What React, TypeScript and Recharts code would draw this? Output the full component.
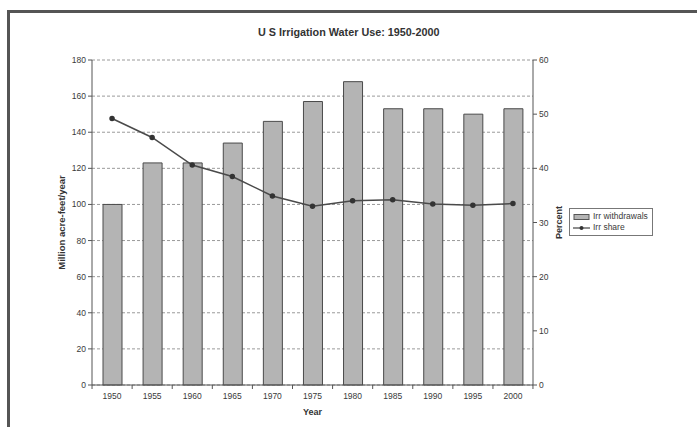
import {
  Bar,
  CartesianGrid,
  ComposedChart,
  Label,
  Line,
  XAxis,
  YAxis,
} from "recharts";

// US irrigation withdrawals (million acre-feet/year) and irrigation share (%)
const years = ["1950", "1955", "1960", "1965", "1970", "1975", "1980", "1985", "1990", "1995", "2000"];
const irrWithdrawals = [100, 123, 123, 134, 146, 157, 168, 153, 153, 150, 153];
const irrShare = [49.2, 45.7, 40.6, 38.5, 34.9, 33.0, 34.0, 34.2, 33.4, 33.2, 33.5];

const leftTicks = [0, 20, 40, 60, 80, 100, 120, 140, 160, 180];
const rightTicks = [0, 10, 20, 30, 40, 50, 60];

const chartData = years.map((y, i) => ({
  year: y,
  withdrawals: irrWithdrawals[i],
  share: irrShare[i],
}));

const FONT = "'Liberation Sans', Arial, sans-serif";
const TEXT = "#3a3a3a";

function YearTick(props: any) {
  const { x, y, payload, index } = props;
  const half = 20;
  return (
    <g>
      <line x1={x - half} y1={y - 8} x2={x - half} y2={y - 4} stroke="#555" />
      {index === years.length - 1 ? (
        <line x1={x + half} y1={y - 8} x2={x + half} y2={y - 4} stroke="#555" />
      ) : null}
      <text x={x} y={y + 6} textAnchor="middle" fontSize={8.5} fill={TEXT} fontFamily={FONT}>
        {payload.value}
      </text>
    </g>
  );
}

function LegendBox() {
  return (
    <div
      style={{
        border: "1px solid #777",
        background: "#fff",
        padding: "2px 3px",
        fontFamily: FONT,
        fontSize: 8.5,
        color: TEXT,
        lineHeight: "11px",
        width: 76,
      }}
    >
      <div style={{ display: "flex", alignItems: "center" }}>
        <svg width={18} height={8}>
          <rect x={1} y={1.5} width={15} height={5} fill="#b4b4b4" stroke="#555" />
        </svg>
        <span style={{ marginLeft: 2 }}>Irr withdrawals</span>
      </div>
      <div style={{ display: "flex", alignItems: "center" }}>
        <svg width={18} height={8}>
          <line x1={0} y1={4} x2={17} y2={4} stroke="#444" strokeWidth={1.2} />
          <circle cx={8.5} cy={4} r={2} fill="#333" />
        </svg>
        <span style={{ marginLeft: 2 }}>Irr share</span>
      </div>
    </div>
  );
}

export default function App() {
  return (
    <div style={{ position: "absolute", left: 0, top: 0, width: 697, height: 427, background: "#fff", overflow: "hidden" }}>
      <div
        style={{
          position: "absolute",
          left: 7,
          top: 10,
          width: 720,
          height: 440,
          borderLeft: "3px solid #555",
          borderTop: "3px solid #555",
        }}
      />
      <div
        style={{
          position: "absolute",
          left: 258,
          top: 26,
          whiteSpace: "nowrap",
          fontFamily: FONT,
          fontSize: 10.8,
          fontWeight: "bold",
          color: "#333",
        }}
      >
        U S Irrigation Water Use: 1950-2000
      </div>
      <div style={{ position: "absolute", left: 0, top: 0 }}>
        <ComposedChart
          width={697}
          height={427}
          data={chartData}
          margin={{ top: 60, right: 124, left: 52, bottom: 12 }}
          barCategoryGap="52%"
        >
          <CartesianGrid yAxisId="left" vertical={false} stroke="#9a9a9a" strokeDasharray="3 2" />
          <XAxis
            dataKey="year"
            height={30}
            stroke="#555"
            tickLine={false}
            tick={<YearTick />}
            interval={0}
          >
            <Label value="Year" position="insideBottom" offset={0} fontSize={9} fontWeight="bold" fill="#333" fontFamily={FONT} />
          </XAxis>
          <YAxis
            yAxisId="left"
            width={40}
            domain={[0, 180]}
            ticks={leftTicks}
            stroke="#555"
            tickSize={4}
            tick={{ fontSize: 8.5, fill: TEXT, fontFamily: FONT }}
          >
            <Label
              value="Million acre-feet/year"
              angle={-90}
              position="insideLeft"
              offset={10}
              fontSize={9.5}
              fontWeight="bold"
              fill="#333"
              fontFamily={FONT}
              style={{ textAnchor: "middle" }}
            />
          </YAxis>
          <YAxis
            yAxisId="right"
            orientation="right"
            width={40}
            domain={[0, 60]}
            ticks={rightTicks}
            stroke="#555"
            tickSize={4}
            tick={{ fontSize: 8.5, fill: TEXT, fontFamily: FONT }}
          >
            <Label
              value="Percent"
              angle={-90}
              position="center"
              dx={6}
              fontSize={9}
              fontWeight="bold"
              fill="#333"
              fontFamily={FONT}
            />
          </YAxis>
          <Bar
            yAxisId="left"
            dataKey="withdrawals"
            name="Irr withdrawals"
            fill="#b4b4b4"
            stroke="#4a4a4a"
            strokeWidth={1}
            barSize={19}
            isAnimationActive={false}
          />
          <Line
            yAxisId="right"
            dataKey="share"
            name="Irr share"
            stroke="#4a4a4a"
            strokeWidth={1.5}
            dot={{ r: 2, fill: "#333", stroke: "#333" }}
            isAnimationActive={false}
          />
        </ComposedChart>
      </div>
      <div style={{ position: "absolute", left: 569, top: 208 }}>
        <LegendBox />
      </div>
    </div>
  );
}
